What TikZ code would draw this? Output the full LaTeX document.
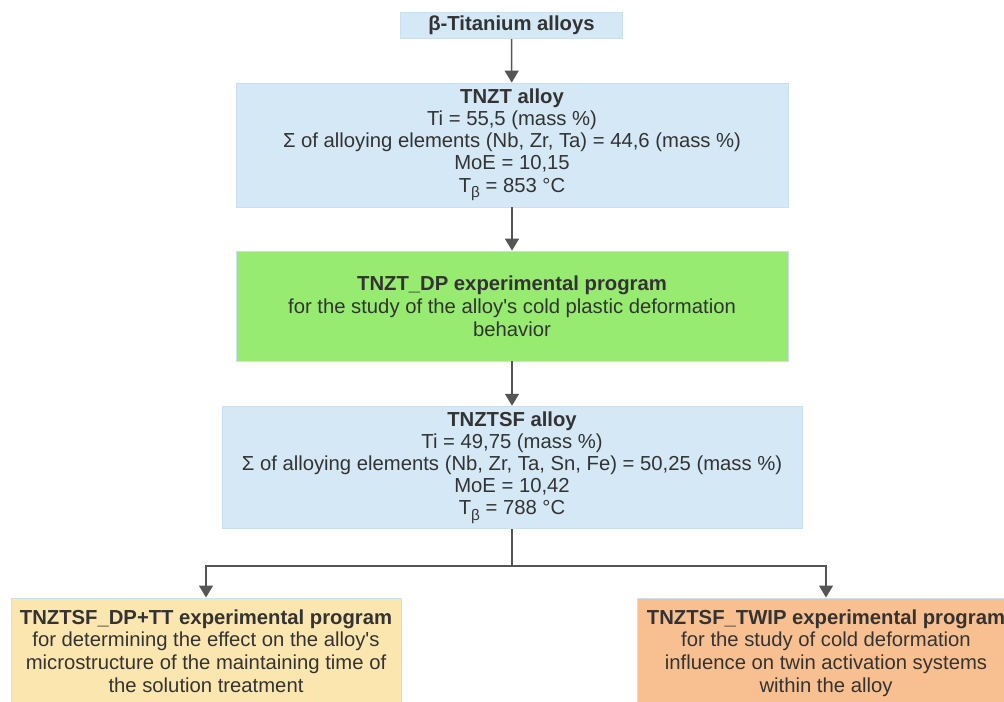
\documentclass[tikz,border=0pt]{standalone}
\usepackage{fontspec}
\setmainfont{Liberation Sans}
\usetikzlibrary{arrows.meta}
\definecolor{fillBlue}{RGB}{212, 232, 245}
\definecolor{fillGreen}{RGB}{150, 235, 112}
\definecolor{fillYellow}{RGB}{252, 230, 176}
\definecolor{fillOrange}{RGB}{248, 192, 145}
\definecolor{edgeBlue}{RGB}{200, 224, 242}
\definecolor{txtgray}{RGB}{51, 51, 51}
\definecolor{arrgray}{RGB}{85, 85, 85}
\newcommand{\lowsub}[1]{\raisebox{-0.55ex}{\fontsize{11.5}{11.5}\selectfont #1}}
\tikzset{
  % Bloklar
  box/.style       = {draw=edgeBlue, line width=0.6pt, inner sep=0pt, align=center,
                      text=txtgray, font=\fontsize{15.2}{16.6}\selectfont},
  alloybox/.style  = {box, fill=fillBlue},
  progbox/.style   = {box, fill=fillGreen, font=\fontsize{15.2}{17.2}\selectfont},
  leftbox/.style   = {box, fill=fillYellow, font=\fontsize{15.2}{17.2}\selectfont},
  rightbox/.style  = {box, fill=fillOrange, font=\fontsize{15.2}{17.2}\selectfont},
  % Strelkalar
  conn/.style      = {draw=arrgray, line width=1.2pt,
                      -{Triangle[length=9pt, width=10.5pt]}},
}
\begin{document}
\begin{tikzpicture}[x=0.75pt, y=-0.75pt]
  \useasboundingbox (0,0) rectangle (1004,702);
  \clip (0,0) rectangle (1004,702);
  % Yuqori blok
  \node[alloybox, minimum width=167pt, minimum height=20pt] (beta) at (511.5,25.5)
    {\textbf{β-Titanium alloys}};
  % TNZT qotishmasi
  \node[alloybox, minimum width=414pt, minimum height=93pt] (tnzt) at (512,145)
    {\textbf{TNZT alloy}\\
     Ti = 55,5 (mass \%)\\
     Σ of alloying elements (Nb, Zr, Ta) = 44,6 (mass \%)\\
     MoE = 10,15\\
     T\lowsub{β} = 853 °C};
  % Dastur
  \node[progbox, minimum width=414pt, minimum height=82.5pt] (dp) at (512,306)
    {\textbf{TNZT\_DP experimental program}\\
     for the study of the alloy\textquotesingle s cold plastic deformation\\
     behavior};
  % TNZTSF qotishmasi
  \node[alloybox, minimum width=435pt, minimum height=92pt] (tnztsf) at (512,467.5)
    {\textbf{TNZTSF alloy}\\
     Ti = 49,75 (mass \%)\\
     Σ of alloying elements (Nb, Zr, Ta, Sn, Fe) = 50,25 (mass \%)\\
     MoE = 10,42\\
     T\lowsub{β} = 788 °C};
  % Pastki bloklar
  \node[leftbox, anchor=north, minimum width=292.5pt, minimum height=95pt] (dptt) at (206,597.5)
    {\rule{0pt}{19pt}\textbf{TNZTSF\_DP+TT experimental program}\\
     for determining the effect on the alloy\textquotesingle s\\
     microstructure of the maintaining time of\\
     the solution treatment\\[6pt]};
  \node[rightbox, anchor=north, minimum width=283.5pt, minimum height=95pt] (twip) at (826,597.5)
    {\rule{0pt}{19pt}\textbf{TNZTSF\_TWIP experimental program}\\
     for the study of cold deformation\\
     influence on twin activation systems\\
     within the alloy\\[6pt]};
  % Strelkalar
  \draw[conn] (beta) -- (tnzt);
  \draw[conn] (tnzt) -- (dp);
  \draw[conn] (dp) -- (tnztsf);
  \coordinate (split) at (512,566);
  \draw[draw=arrgray, line width=1.2pt] (tnztsf.south) -- (split);
  \draw[conn] (split) -| (dptt.north);
  \draw[conn] (split) -| (twip.north);
\end{tikzpicture}
\end{document}
